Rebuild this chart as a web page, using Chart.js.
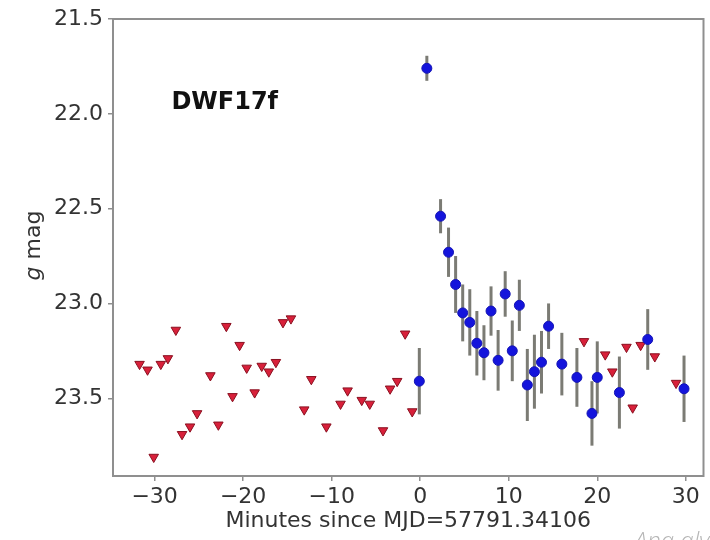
<!DOCTYPE html>
<html>
<head>
<meta charset="utf-8">
<script src="https://cdn.jsdelivr.net/npm/chart.js@4/dist/chart.umd.min.js"></script>
<style>
  html, body { margin: 0; padding: 0; background: #ffffff; }
  #wrap { width: 710px; height: 540px; position: relative; }
</style>
</head>
<body>
<div id="wrap"><canvas id="c" width="710" height="540"></canvas></div>
<script>
// ---- data ----
const xTickValues = [-30, -20, -10, 0, 10, 20, 30];
const yTickValues = [21.5, 22.0, 22.5, 23.0, 23.5];

// upper limits (red downward triangles)
const upperX = [-31.7, -30.8, -30.1, -29.3, -28.5, -27.6, -26.9, -26.0, -25.2, -23.7,
                -22.8, -21.9, -21.2, -20.4, -19.6, -18.7, -17.9, -17.1, -16.3, -15.5,
                -14.6, -13.1, -12.3, -10.6, -9.0, -8.2, -6.6, -5.7, -4.2, -3.4,
                -2.6, -1.7, -0.9, 18.5, 20.9, 21.7, 23.3, 24.0, 24.9, 26.5, 28.9];
const upperMag = [23.32, 23.35, 23.81, 23.32, 23.29, 23.14, 23.69, 23.65, 23.58, 23.38,
                  23.64, 23.12, 23.49, 23.22, 23.34, 23.47, 23.33, 23.36, 23.31, 23.10,
                  23.08, 23.56, 23.40, 23.65, 23.53, 23.46, 23.51, 23.53, 23.67, 23.45,
                  23.41, 23.16, 23.57, 23.20, 23.27, 23.36, 23.23, 23.55, 23.22, 23.28, 23.42];

// detections (blue points with error bars)
const detX = [-0.1, 0.75, 2.3, 3.2, 4.0, 4.8, 5.6, 6.4, 7.2, 8.0, 8.8, 9.6, 10.4,
              11.2, 12.1, 12.9, 13.7, 14.5, 16.0, 17.7, 19.4, 20.0, 22.5, 25.7, 29.8];
const detMag = [23.41, 21.76, 22.54, 22.73, 22.90, 23.05, 23.10, 23.21, 23.26, 23.04, 23.30, 22.95, 23.25,
                23.01, 23.43, 23.36, 23.31, 23.12, 23.32, 23.39, 23.58, 23.39, 23.47, 23.19, 23.45];
const detErr = [0.175, 0.066, 0.09, 0.13, 0.15, 0.15, 0.175, 0.17, 0.145, 0.13, 0.16, 0.12, 0.16,
                0.135, 0.19, 0.195, 0.165, 0.12, 0.165, 0.155, 0.17, 0.19, 0.19, 0.16, 0.175];

const objectName = "DWF17f";
const xTitle = "Minutes since MJD=57791.34106";
const yTitleItalic = "g";
const yTitleRest = " mag";
const watermark = "Ana aly";

// ---- build chart ----
const detPoints = detX.map((x, i) => ({ x: x, y: detMag[i] }));
const upperPoints = upperX.map((x, i) => ({ x: x, y: upperMag[i] }));

const FONT = "'DejaVu Sans', sans-serif";

const errorBarPlugin = {
  id: 'errorBars',
  beforeDatasetsDraw(chart) {
    const { ctx, scales } = chart;
    ctx.save();
    ctx.strokeStyle = '#7b7b74';
    ctx.lineWidth = 3;
    for (let i = 0; i < detX.length; i++) {
      const px = scales.x.getPixelForValue(detX[i]);
      const y1 = scales.y.getPixelForValue(detMag[i] - detErr[i]);
      const y2 = scales.y.getPixelForValue(detMag[i] + detErr[i]);
      ctx.beginPath();
      ctx.moveTo(px, y1);
      ctx.lineTo(px, y2);
      ctx.stroke();
    }
    ctx.restore();
  }
};

const framePlugin = {
  id: 'frameAndText',
  afterDraw(chart) {
    const { ctx, chartArea, scales } = chart;
    ctx.save();
    // frame
    ctx.strokeStyle = '#8f8f8f';
    ctx.lineWidth = 2;
    ctx.strokeRect(chartArea.left, chartArea.top, chartArea.right - chartArea.left, chartArea.bottom - chartArea.top);
    // object label
    ctx.fillStyle = '#111111';
    ctx.font = "bold 24px " + FONT;
    ctx.textAlign = 'left';
    ctx.textBaseline = 'middle';
    ctx.fillText(objectName, scales.x.getPixelForValue(-28.1), scales.y.getPixelForValue(21.94));
    // y title with italic g
    const cy = (chartArea.top + chartArea.bottom) / 2 - 2;
    ctx.translate(34, cy);
    ctx.rotate(-Math.PI / 2);
    ctx.fillStyle = '#333333';
    ctx.textBaseline = 'middle';
    ctx.font = "italic 22px " + FONT;
    const w1 = ctx.measureText(yTitleItalic).width;
    ctx.font = "22px " + FONT;
    const w2 = ctx.measureText(yTitleRest).width;
    const start = -(w1 + w2) / 2;
    ctx.textAlign = 'left';
    ctx.font = "italic 22px " + FONT;
    ctx.fillText(yTitleItalic, start, 0);
    ctx.font = "22px " + FONT;
    ctx.fillText(yTitleRest, start + w1, 0);
    ctx.setTransform(1, 0, 0, 1, 0, 0);
    // watermark (cut at bottom edge)
    ctx.fillStyle = '#b5b5b5';
    ctx.font = "italic 300 24px 'Open Sans', sans-serif";
    ctx.textBaseline = 'alphabetic';
    ctx.textAlign = 'left';
    ctx.fillText(watermark, 634, 549);
    ctx.restore();
  }
};

new Chart(document.getElementById('c'), {
  data: {
    datasets: [
      {
        type: 'scatter',
        label: 'detections',
        data: detPoints,
        order: 0,
        pointStyle: 'circle',
        pointRadius: 5,
        pointHoverRadius: 5,
        backgroundColor: '#1414dc',
        borderColor: '#1414b4',
        borderWidth: 1
      },
      {
        type: 'scatter',
        label: 'upper limits',
        data: upperPoints,
        order: 1,
        pointStyle: 'triangle',
        rotation: 180,
        pointRadius: 5.5,
        pointHoverRadius: 5.5,
        backgroundColor: '#d8203a',
        borderColor: '#8a1020',
        borderWidth: 1
      }
    ]
  },
  options: {
    responsive: false,
    animation: false,
    devicePixelRatio: 1,
    layout: { padding: { top: 19, right: 5, left: 0, bottom: 0 } },
    plugins: { legend: { display: false }, tooltip: { enabled: false } },
    scales: {
      x: {
        type: 'linear',
        min: -34.7,
        max: 32.0,
        afterBuildTicks(scale) { scale.ticks = xTickValues.map(v => ({ value: v })); },
        afterFit(scale) { scale.height = 64; },
        grid: { drawOnChartArea: false, drawTicks: true, tickLength: 5, color: '#8f8f8f', lineWidth: 1.5 },
        border: { display: false },
        ticks: {
          color: '#333333',
          padding: 3,
          font: { family: FONT, size: 22 },
          callback: (v) => (v < 0 ? '\u2212' + Math.abs(v) : String(v))
        },
        title: {
          display: true,
          text: xTitle,
          color: '#333333',
          font: { family: FONT, size: 22 },
          padding: { top: 0, bottom: 6 }
        }
      },
      y: {
        type: 'linear',
        reverse: true,
        min: 21.5,
        max: 23.91,
        afterBuildTicks(scale) { scale.ticks = yTickValues.map(v => ({ value: v })); },
        afterFit(scale) { scale.width = 113; },
        grid: { drawOnChartArea: false, drawTicks: true, tickLength: 5, color: '#8f8f8f', lineWidth: 1.5 },
        border: { display: false },
        ticks: {
          color: '#333333',
          padding: 5,
          font: { family: FONT, size: 22 },
          callback: (v) => Number(v).toFixed(1)
        }
      }
    }
  },
  plugins: [errorBarPlugin, framePlugin]
});
</script>
</body>
</html>
